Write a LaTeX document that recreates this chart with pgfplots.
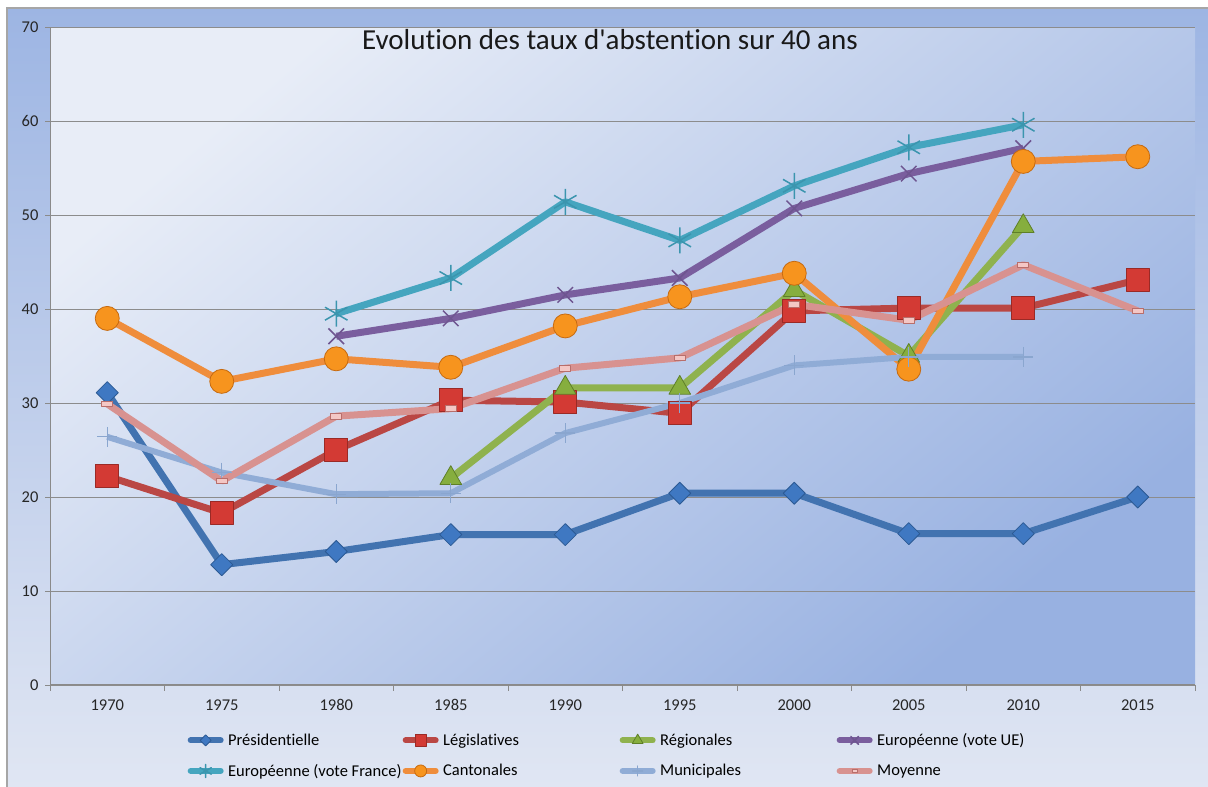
\documentclass[border=0pt]{standalone}
\usepackage{pgfplots}
\pgfplotsset{compat=1.18}
\usepackage{fontspec}
\setmainfont{Carlito}[Ligatures={TeXOff,CommonOff}]
\definecolor{outtop}{HTML}{9DB5E3}
\definecolor{outbot}{HTML}{E0E6F3}
\definecolor{bgtl}{HTML}{E8EDF7}
\definecolor{bgbr}{HTML}{98B1E1}
\definecolor{gridgray}{HTML}{8C8C8C}
\definecolor{axgray}{HTML}{8A8A8A}
\definecolor{pres}{HTML}{4273B0}
\definecolor{presm}{HTML}{3F78C2}
\definecolor{presd}{HTML}{2C5A94}
\definecolor{legi}{HTML}{BA4744}
\definecolor{legim}{HTML}{D33A34}
\definecolor{legid}{HTML}{9A2A26}
\definecolor{regi}{HTML}{8FB24E}
\definecolor{regim}{HTML}{86AE3E}
\definecolor{regid}{HTML}{5E7F28}
\definecolor{ueue}{HTML}{7A5E9E}
\definecolor{ueuem}{HTML}{6E5590}
\definecolor{uefr}{HTML}{45A5BF}
\definecolor{uefrm}{HTML}{3B95AE}
\definecolor{cant}{HTML}{EF8D3C}
\definecolor{cantm}{HTML}{F7941E}
\definecolor{cantd}{HTML}{C66A10}
\definecolor{muni}{HTML}{90ACD6}
\definecolor{munim}{HTML}{8AA6CF}
\definecolor{moy}{HTML}{D89290}
\definecolor{moym}{HTML}{F4C7C5}
\definecolor{moyd}{HTML}{B86E6B}
\begin{document}
\begin{tikzpicture}[x=1pt,y=1pt]
\useasboundingbox (0,0) rectangle (1208,787);
\fill[white] (0,0) rectangle (1208,787);
\shade[top color=outtop, bottom color=outbot] (7,0) rectangle (1208,779);
\draw[gray!70, line width=1.5pt] (7,0) -- (7,779) -- (1208,779);
\begin{axis}[
  at={(50pt,102pt)}, anchor=south west,
  scale only axis, width=1145pt, height=658pt,
  xmin=-0.5, xmax=9.5, ymin=0, ymax=70,
  xtick={0,...,9},
  xticklabels={1970,1975,1980,1985,1990,1995,2000,2005,2010,2015},
  minor xtick={-0.5,0.5,...,9.5},
  ytick={0,10,...,70},
  ymajorgrids, grid style={draw=gridgray, line width=0.8pt},
  axis x line*=bottom, axis y line*=left,
  axis line style={draw=axgray, line width=1pt, -},
  tick align=outside,
  major tick length=5pt, minor tick length=6pt,
  major x tick style={draw=none},
  minor x tick style={draw=axgray, line width=0.8pt},
  ytick style={draw=axgray, line width=0.8pt},
  tick label style={font=\fontsize{16.5}{19}\selectfont, text=black!85},
  xticklabel style={yshift=-6pt},
  yticklabel style={xshift=-3pt},
  /pgf/number format/assume math mode=true,
  axis background/.style={top color=bgtl, bottom color=bgbr, shading angle=40},
  title={Evolution des taux d'abstention sur 40 ans},
  title style={at={(0.489,0.956)}, anchor=base, yshift=0pt, font=\fontsize{29}{32}\selectfont, text=black!90},
  legend columns=4,
  legend cell align=left,
  legend style={at={(0.1170,-0.072)}, anchor=north west, draw=none, fill=none,
    inner sep=0pt, font=\fontsize{16.5}{19}\selectfont, row sep=15pt,
    nodes={inner sep=1pt}},
  legend image code/.code={
    \path (0pt,0pt) (36pt,0pt);
    \draw[#1, line width=6pt, line cap=round, mark repeat=2, mark phase=2,
      /tikz/every mark/.append style={scale=0.5}]
      plot coordinates {(3pt,0pt) (18pt,0pt) (33pt,0pt)};
  },
  every axis plot/.append style={line width=7pt, line join=round},
]
\addplot[color=pres, mark=square*, mark size=7.8pt,
  mark options={rotate=45, fill=presm, draw=presd, line width=0.8pt}]
  coordinates {(0,31.1)(1,12.8)(2,14.2)(3,16.0)(4,16.0)(5,20.4)(6,20.4)(7,16.1)(8,16.1)(9,20.0)};
\addlegendentry{\makebox[170pt][l]{Présidentielle}}
\addplot[color=legi, mark=square*, mark size=11.5pt,
  mark options={fill=legim, draw=legid, line width=0.8pt}]
  coordinates {(0,22.2)(1,18.3)(2,25.0)(3,30.3)(4,30.1)(5,28.9)(6,39.8)(7,40.1)(8,40.1)(9,43.1)};
\addlegendentry{\makebox[172pt][l]{Législatives}}
\addplot[color=regi, mark=triangle*, mark size=12.5pt,
  mark options={fill=regim, draw=regid, line width=0.8pt}]
  coordinates {(3,22.0)(4,31.6)(5,31.6)(6,42.0)(7,35.0)(8,48.8)};
\addlegendentry{\makebox[172pt][l]{Régionales}}
\addplot[color=ueue, mark=x, mark size=11pt,
  mark options={draw=ueuem, line width=1.5pt}]
  coordinates {(2,37.1)(3,39.0)(4,41.5)(5,43.3)(6,50.7)(7,54.4)(8,57.1)};
\addlegendentry{\makebox[172pt][l]{Européenne (vote UE)}}
\addplot[color=uefr, mark=asterisk, mark size=13pt,
  mark options={draw=uefrm, line width=1.5pt}]
  coordinates {(2,39.5)(3,43.3)(4,51.4)(5,47.3)(6,53.1)(7,57.2)(8,59.6)};
\addlegendentry{\makebox[170pt][l]{Européenne (vote France)}}
\addplot[color=cant, mark=*, mark size=12pt,
  mark options={fill=cantm, draw=cantd, line width=0.8pt}]
  coordinates {(0,39.0)(1,32.3)(2,34.7)(3,33.8)(4,38.2)(5,41.3)(6,43.8)(7,33.6)(8,55.7)(9,56.2)};
\addlegendentry{\makebox[172pt][l]{Cantonales}}
\addplot[color=muni, line width=6pt, mark=+, mark size=10pt,
  mark options={draw=munim, line width=1.2pt}]
  coordinates {(0,26.4)(1,22.6)(2,20.3)(3,20.4)(4,26.8)(5,30.0)(6,34.0)(7,34.9)(8,34.9)};
\addlegendentry{\makebox[172pt][l]{Municipales}}
\addplot[color=moy, mark=square*, mark size=5pt,
  mark options={xscale=1.1, yscale=0.55, fill=moym, draw=moyd, line width=0.8pt}]
  coordinates {(0,29.9)(1,21.7)(2,28.6)(3,29.4)(4,33.7)(5,34.8)(6,40.5)(7,38.8)(8,44.7)(9,39.8)};
\addlegendentry{\makebox[172pt][l]{Moyenne}}
\end{axis}
\end{tikzpicture}
\end{document}
